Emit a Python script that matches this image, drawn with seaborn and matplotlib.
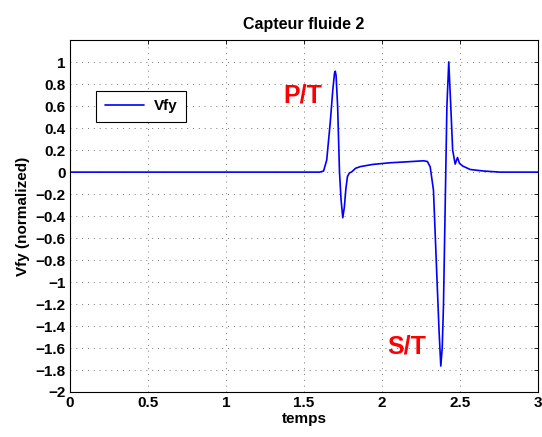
import pandas as pd
import matplotlib
matplotlib.use('Agg')
import matplotlib.pyplot as plt
import seaborn as sns

# Values
temps = [0, 1.60, 1.625, 1.645, 1.667, 1.684, 1.695, 1.70, 1.705, 1.715, 1.727, 1.737,
         1.748, 1.758, 1.768, 1.778, 1.79, 1.806, 1.83, 1.86, 1.94, 2.05, 2.15, 2.265,
         2.29, 2.308, 2.329, 2.35, 2.365, 2.376, 2.385, 2.393, 2.404, 2.415, 2.427,
         2.44, 2.452, 2.468, 2.483, 2.496, 2.517, 2.564, 2.65, 2.756, 3.0]
vfy = [0, 0, 0.01, 0.109, 0.44, 0.745, 0.9, 0.918, 0.88, 0.6, 0.0, -0.25,
       -0.415, -0.32, -0.15, -0.04, -0.008, 0.003, 0.035, 0.05, 0.07, 0.085, 0.093, 0.103,
       0.097, 0.048, -0.164, -0.92, -1.45, -1.764, -1.6, -1.22, -0.315, 0.594, 1.003,
       0.594, 0.2, 0.073, 0.133, 0.079, 0.055, 0.024, 0.01, 0.0, 0.0]
x_ticks = [0, 0.5, 1, 1.5, 2, 2.5, 3]
y_ticks = [-2, -1.8, -1.6, -1.4, -1.2, -1, -0.8, -0.6, -0.4, -0.2, 0, 0.2, 0.4, 0.6, 0.8, 1]
annotations = [('P/T', 1.49, 0.70), ('S/T', 2.16, -1.59)]

df = pd.DataFrame({'temps': temps, 'Vfy': vfy})

sns.set_style('white')
plt.rcParams['font.family'] = ['Liberation Sans', 'DejaVu Sans']
plt.rcParams['font.weight'] = 'bold'
plt.rcParams['text.color'] = 'black'
plt.rcParams['axes.labelcolor'] = 'black'
plt.rcParams['xtick.color'] = 'black'
plt.rcParams['ytick.color'] = 'black'

fig = plt.figure(figsize=(5.42, 4.37), dpi=100)
ax = fig.add_axes([0.129, 0.103, 0.864, 0.805])

sns.lineplot(x='temps', y='Vfy', data=df, color='#0000ff', linewidth=1.2, label='Vfy', ax=ax)

for txt, tx, ty in annotations:
    ax.text(tx, ty, txt, color='red', fontsize=18, fontweight='bold', ha='center', va='center')

ax.set_xlim(0, 3)
ax.set_ylim(-2, 1.2)
ax.set_xticks(x_ticks)
ax.set_xticklabels([f'{v:g}' for v in x_ticks], fontweight='bold', fontsize=11)
ax.set_yticks(y_ticks)
ax.set_yticklabels([f'{v:g}'.replace('-', '\u2212') for v in y_ticks], fontweight='bold', fontsize=11)
ax.tick_params(direction='in', length=3, top=True, right=True, width=0.6, pad=3)
ax.grid(True, linestyle=(0, (1, 5)), color='#777777', linewidth=0.7)
for s in ax.spines.values():
    s.set_color('black')
    s.set_linewidth(0.8)

ax.set_title('Capteur fluide 2', fontsize=11.5, fontweight='bold', pad=8)
ax.set_xlabel('temps', fontsize=11, fontweight='bold', labelpad=1)
ax.set_ylabel('Vfy (normalized)', fontsize=11, fontweight='bold', labelpad=4)

leg = ax.legend(loc='upper left', bbox_to_anchor=(0.056, 0.856), fancybox=False,
                framealpha=1, edgecolor='black', fontsize=11, handlelength=2.6,
                borderpad=0.55, borderaxespad=0, handletextpad=0.6)
leg.get_frame().set_linewidth(0.8)
for t in leg.get_texts():
    t.set_fontweight('bold')

fig.savefig('out.png', dpi=100)
